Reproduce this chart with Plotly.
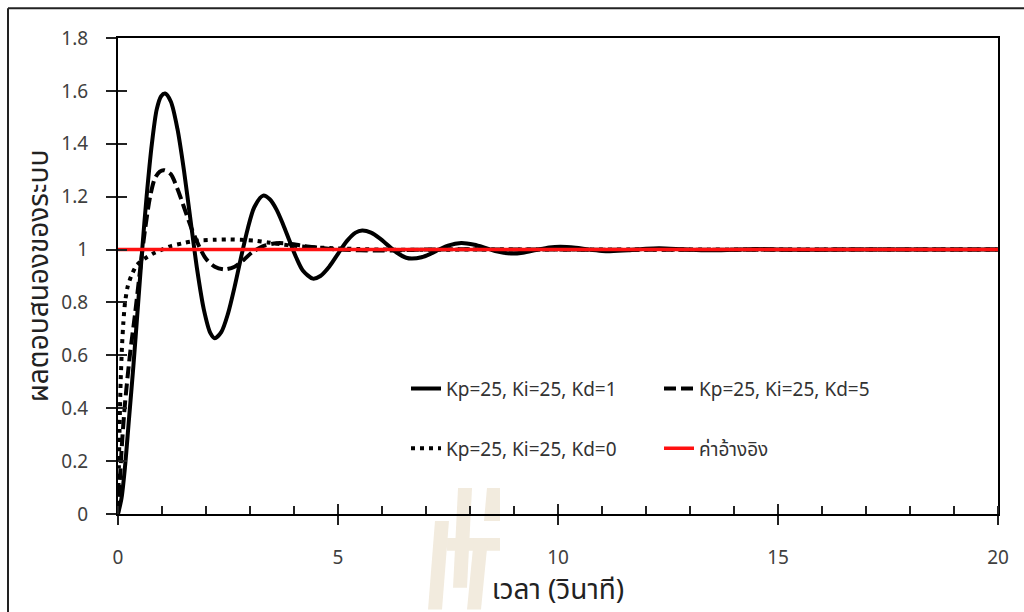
import plotly.graph_objects as go

# ---- data ----
t_kd1 = [0, 0.08, 0.16, 0.25, 0.35,
         0.45, 0.55, 0.65, 0.77, 0.88,
         0.98, 1.07, 1.2, 1.35, 1.5,
         1.65, 1.8, 1.95, 2.1, 2.2,
         2.35, 2.5, 2.65, 2.8, 2.95,
         3.1, 3.3, 3.45, 3.6, 3.75,
         3.9, 4.05, 4.2, 4.43, 4.6,
         4.8, 5.0, 5.2, 5.4, 5.55,
         5.75, 5.95, 6.15, 6.35, 6.55,
         6.68, 6.9, 7.1, 7.3, 7.5,
         7.8, 8.1, 8.35, 8.6, 8.93,
         9.2, 9.5, 9.8, 10.05, 10.4,
         10.7, 11.0, 11.18, 11.6, 12.0,
         12.3, 12.85, 13.4, 13.95, 14.5,
         15.05, 15.6, 16.5, 18, 20]
y_kd1 = [0, 0.06, 0.18, 0.36, 0.56,
         0.78, 1.0, 1.2, 1.4, 1.53,
         1.58, 1.59, 1.56, 1.457, 1.298,
         1.109, 0.923, 0.774, 0.684, 0.665,
         0.689, 0.758, 0.859, 0.973, 1.08,
         1.161, 1.204, 1.19, 1.152, 1.096,
         1.032, 0.97, 0.921, 0.89, 0.90,
         0.935, 0.984, 1.032, 1.064, 1.072,
         1.064, 1.042, 1.014, 0.987, 0.969,
         0.966, 0.971, 0.984, 1.0, 1.015,
         1.025, 1.018, 1.006, 0.993, 0.985,
         0.988, 0.998, 1.008, 1.011, 1.007,
         1.0, 0.995, 0.994, 0.997, 1.003,
         1.005, 1.001, 0.997, 0.999, 1.002,
         1.0, 0.999, 1.0, 1.0, 1.0]

t_kd5 = [0, 0.05, 0.1, 0.16, 0.27, 0.39, 0.5, 0.61, 0.73, 0.84,
         0.95, 1.05, 1.2, 1.35, 1.5, 1.67, 1.85, 2.0, 2.2, 2.42,
         2.65, 2.85, 3.05, 3.3, 3.6, 3.85, 4.2, 4.6, 5.0, 5.5,
         6.0, 6.5, 7.0, 8.0, 9.0, 20]
y_kd5 = [0, 0.15, 0.29, 0.42, 0.6, 0.76, 0.92, 1.07, 1.2, 1.27,
         1.295, 1.3, 1.285, 1.23, 1.16, 1.08, 1.01, 0.965, 0.935, 0.925,
         0.935, 0.96, 0.99, 1.013, 1.024, 1.023, 1.014, 1.006, 1.0, 0.997,
         0.996, 0.998, 1.0, 1.001, 1.0, 1.0]

t_kd0 = [0, 0.02, 0.04, 0.06, 0.09, 0.12, 0.16, 0.22, 0.3, 0.42,
         0.6, 0.8, 1.0, 1.22, 1.45, 1.65, 1.9, 2.2, 2.5, 2.8,
         3.1, 3.4, 3.7, 4.0, 4.5, 5.0, 5.5, 6.0, 7.0, 8.0, 20]
y_kd0 = [0, 0.18, 0.36, 0.5, 0.63, 0.72, 0.8, 0.86, 0.9, 0.94,
         0.965, 0.985, 1.0, 1.014, 1.023, 1.03, 1.035, 1.037, 1.038, 1.037,
         1.034, 1.027, 1.02, 1.014, 1.008, 1.004, 1.002, 1.0, 0.999, 1.0, 1.0]

t_ref = [0, 20]
y_ref = [1, 1]

names = ["Kp=25, Ki=25, Kd=1", "Kp=25, Ki=25, Kd=5",
         "Kp=25, Ki=25, Kd=0", "ค่าอ้างอิง"]
x_title = "เวลา (วินาที)"
y_title = "ผลตอบสนองของระบบ"
y_tickvals = [0, 0.2, 0.4, 0.6, 0.8, 1, 1.2, 1.4, 1.6, 1.8]
y_ticktext = ["0", "0.2", "0.4", "0.6", "0.8", "1", "1.2", "1.4", "1.6", "1.8"]
x_tickvals = [0, 5, 10, 15, 20]
x_ticktext = ["0", "5", "10", "15", "20"]

# ---- layout geometry (pixels) ----
W, H = 1024, 612
L, R, T, B = 118, 998, 38, 516


def px(x):
    return (x - L) / (R - L)


def py(y):
    return (B - y) / (B - T)


FONT = "Noto Sans Thai, Tahoma, Leelawadee UI, Noto Sans, sans-serif"

fig = go.Figure()
fig.add_trace(go.Scatter(x=t_kd1, y=y_kd1, mode="lines", name=names[0],
                         line=dict(color="black", width=4, shape="spline", smoothing=0.8),
                         legend="legend"))
fig.add_trace(go.Scatter(x=t_kd5, y=y_kd5, mode="lines", name=names[1],
                         line=dict(color="black", width=4, dash="12px,5px", shape="spline", smoothing=0.8),
                         legend="legend"))
fig.add_trace(go.Scatter(x=t_kd0, y=y_kd0, mode="lines", name=names[2],
                         line=dict(color="black", width=4, dash="4px,5px", shape="spline", smoothing=0.6),
                         legend="legend2"))
fig.add_trace(go.Scatter(x=t_ref, y=y_ref, mode="lines", name=names[3],
                         line=dict(color="#ff1010", width=3.5),
                         legend="legend2"))

# watermark (light beige, decorative)
wm = "#f2ebde"
polys = [
    [(428, 612), (442, 612), (449, 523), (435, 523)],
    [(453, 590), (467, 590), (472, 490), (458, 490)],
    [(447, 540), (500, 540), (500, 553), (447, 553)],
    [(467, 612), (481, 612), (488, 540), (474, 540)],
    [(484, 523), (500, 523), (500, 490), (487, 490)],
]
shapes = []
for poly in polys:
    path = "M " + " L ".join(f"{px(a):.4f},{py(b):.4f}" for a, b in poly) + " Z"
    shapes.append(dict(type="path", xref="paper", yref="paper", path=path,
                       fillcolor=wm, line=dict(width=0), layer="below"))
# outer frame (left and top edges visible)
shapes.append(dict(type="line", xref="paper", yref="paper",
                   x0=px(8), x1=px(1030), y0=py(8), y1=py(8),
                   line=dict(color="#222", width=2)))
shapes.append(dict(type="line", xref="paper", yref="paper",
                   x0=px(8), x1=px(8), y0=py(8), y1=py(620),
                   line=dict(color="#222", width=2)))

tickfont = dict(family="Noto Sans, sans-serif", size=19, color="#404040")
legfont = dict(family=FONT, size=19, color="#333")

fig.update_layout(
    width=W, height=H,
    margin=dict(l=L, r=W - R, t=T, b=H - B, pad=0),
    paper_bgcolor="white", plot_bgcolor="white",
    shapes=shapes,
    xaxis=dict(range=[0, 20], tickvals=x_tickvals, ticktext=x_ticktext,
               showgrid=False, zeroline=False,
               showline=True, linecolor="black", linewidth=2, mirror=True,
               ticks="outside", ticklen=9, tickwidth=1.5, tickcolor="#222",
               minor=dict(dtick=1, ticks="inside", ticklen=8, tickwidth=1.5,
                          tickcolor="#222", showgrid=False),
               tickfont=tickfont, ticklabelstandoff=16,
               title=dict(text=x_title, standoff=11,
                          font=dict(family=FONT, size=28, color="#222"))),
    yaxis=dict(range=[0, 1.8], tickvals=y_tickvals, ticktext=y_ticktext,
               showgrid=False, zeroline=False,
               showline=True, linecolor="black", linewidth=2, mirror=True,
               ticks="outside", ticklen=10, tickwidth=1.5, tickcolor="#222",
               tickfont=tickfont, ticklabelstandoff=14,
               title=dict(text=y_title, standoff=3,
                          font=dict(family=FONT, size=28, color="#222"))),
    xaxis2=dict(overlaying="x", matches="x", range=[0, 20], tickvals=x_tickvals,
                showticklabels=False, showgrid=False, zeroline=False, showline=False,
                ticks="inside", ticklen=10, tickwidth=1.5, tickcolor="#222"),
    yaxis2=dict(overlaying="y", matches="y", range=[0, 1.8], tickvals=y_tickvals,
                showticklabels=False, showgrid=False, zeroline=False, showline=False,
                ticks="inside", ticklen=9, tickwidth=1.5, tickcolor="#222"),
    legend=dict(orientation="h", x=px(406), y=py(390), xanchor="left", yanchor="middle",
                entrywidth=208, entrywidthmode="pixels", bgcolor="rgba(0,0,0,0)",
                font=legfont),
    legend2=dict(orientation="h", x=px(406), y=py(450), xanchor="left", yanchor="middle",
                 entrywidth=208, entrywidthmode="pixels", bgcolor="rgba(0,0,0,0)",
                 font=legfont),
    showlegend=True,
)
# invisible trace so the overlay axes are rendered
fig.add_trace(go.Scatter(x=[0], y=[0], xaxis="x2", yaxis="y2", mode="markers",
                         marker=dict(opacity=0), showlegend=False, hoverinfo="skip"))

fig.write_html("out.html")
